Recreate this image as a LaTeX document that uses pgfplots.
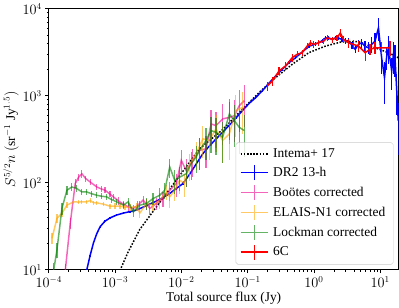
\documentclass[border=0pt]{standalone}
\usepackage{fontspec}
\setmainfont{Liberation Serif}
\usepackage{pgfplots}
\pgfplotsset{compat=1.18}
\definecolor{mplorange}{RGB}{255,165,0}
\definecolor{mplgreen}{RGB}{0,128,0}
\newcommand{\lf}{\fontsize{13.5}{16}\selectfont}
\pgfplotsset{
  errleg/.style={legend image code/.code={
    \draw[#1, line width=1.5pt] (0pt,0pt) -- (28pt,0pt) (14pt,-7.5pt) -- (14pt,7.5pt);}},
  lineleg/.style={legend image code/.code={
    \draw[black, line width=1.5pt, dash pattern=on 1.6pt off 1.6pt] (0pt,0pt) -- (28pt,0pt);}},
}
\begin{document}
\begin{tikzpicture}
\begin{loglogaxis}[
  width=352pt, height=262.5pt, scale only axis,
  xmin=1e-4, xmax=19, ymin=10, ymax=1e4,
  tick align=outside, tick pos=left,
  major tick length=3.5pt, minor tick length=2pt,
  every tick/.style={black, line width=0.6pt},
  axis line style={line width=0.6pt, black},
  tick label style={font=\lf},
  label style={font=\lf},
  xlabel={Total source flux (Jy)},
  ylabel={$S^{5/2}n\ (\mathrm{sr}^{-1}\ \mathrm{Jy}^{1.5})$},
  xlabel style={yshift=3pt},
  ylabel style={yshift=-3pt},
  legend cell align=left,
  legend style={at={(0.985,0.02)}, anchor=south east, draw=black!20,
    rounded corners=2pt, fill=white, fill opacity=0.8, text opacity=1, draw opacity=1,
    font=\lf, row sep=3.5pt, inner xsep=4pt, inner ysep=4pt,
    nodes={inner xsep=4pt}},
]
% Intema+ 17
\addplot[black, line width=1.5pt, dash pattern=on 1.6pt off 1.6pt, lineleg] table[row sep=\\] {
x y\\
1.1e-3 7\\
1.2e-3 10\\
1.58e-3 16.1\\
2.37e-3 29.2\\
3.75e-3 46.9\\
5.3e-3 66.8\\
7.48e-3 95.3\\
1.06e-2 136\\
1.88e-2 246\\
4.2e-2 408\\
8.39e-2 705\\
0.149 1091\\
0.265 1620\\
0.471 2300\\
0.839 3130\\
1.49 3726\\
2.65 4180\\
4.71 4180\\
8.36 3565\\
13.3 3130\\
18.7 2740\\
};
\addlegendentry{\lf Intema+ 17}
% DR2 13-h
\addplot[blue, line width=1.5pt, errleg={blue}, error bars/.cd, y dir=both, y explicit relative, error mark=none, error bar style={line width=1.2pt}] table[row sep=\\, x=x, y=y, y error=e] {
x y e\\
3.5e-4 7 0\\
3.75e-4 10 0.03\\
4.2e-4 14.5 0.03\\
4.73e-4 20.4 0.03\\
5.3e-4 26 0.03\\
5.96e-4 31.3 0.03\\
7.0e-4 36 0.03\\
8.41e-4 39.5 0.03\\
1.05e-3 42.5 0.03\\
1.33e-3 44.8 0.03\\
1.68e-3 46.6 0.03\\
2.11e-3 48.5 0.03\\
2.65e-3 52.5 0.03\\
3.35e-3 57 0.03\\
4.2e-3 61.5 0.03\\
5.3e-3 67.5 0.03\\
6.68e-3 75.3 0.03\\
8.4e-3 86 0.03\\
1.06e-2 98 0.03\\
1.33e-2 125 0.03\\
1.68e-2 165 0.03\\
2.11e-2 216 0.03\\
2.65e-2 265 0.03\\
3.35e-2 320 0.03\\
4.2e-2 381 0.03\\
5.3e-2 460 0.03\\
6.68e-2 555 0.03\\
8.4e-2 680 0.03\\
0.106 820 0.03\\
0.133 957 0.03\\
0.168 1150 0.03\\
0.211 1400 0.03\\
0.265 1693 0.03\\
0.333 2020 0.04\\
0.42 2400 0.04\\
0.53 2740 0.04\\
0.67 3200 0.04\\
0.84 3700 0.04\\
1.06 3950 0.05\\
1.18 4064 0.05\\
1.33 4300 0.05\\
1.5 4634 0.05\\
1.67 4634 0.06\\
1.88 4450 0.06\\
2.1 4634 0.06\\
2.36 4600 0.06\\
2.65 4450 0.07\\
2.98 4300 0.08\\
3.34 4253 0.08\\
3.75 3800 0.1\\
4.19 3420 0.1\\
4.7 3900 0.12\\
5.28 4064 0.12\\
5.9 3700 0.15\\
6.65 3565 0.15\\
7.45 3900 0.2\\
8.36 4253 0.25\\
9.4 6040 0.3\\
10.5 2740 0.35\\
11.6 1620 0.5\\
12.5 2800 0.3\\
13.3 3565 0.35\\
14.9 1930 0.4\\
15.8 3000 0.4\\
16.7 2740 0.4\\
17.7 1200 0.5\\
18.7 518 0.6\\
};
\addlegendentry{\lf DR2 13-h}
% Bootes
\addplot[magenta, opacity=0.6, line width=1.5pt, errleg={magenta,opacity=0.6}, error bars/.cd, y dir=both, y explicit relative, error mark=none, error bar style={line width=1.2pt}] table[row sep=\\, x=x, y=y, y error=e] {
x y e\\
1.7e-4 7 0\\
1.78e-4 10 0.15\\
2.11e-4 34.2 0.15\\
2.51e-4 97.9 0.12\\
2.8e-4 115 0.1\\
3.16e-4 127 0.1\\
3.6e-4 112 0.08\\
4.22e-4 102 0.08\\
5.3e-4 89.6 0.08\\
6.2e-4 85 0.08\\
7.08e-4 82 0.08\\
8.4e-4 74 0.08\\
9.44e-4 68.9 0.08\\
1.12e-3 62 0.1\\
1.33e-3 56.8 0.1\\
1.58e-3 53 0.1\\
1.88e-3 50.7 0.1\\
2.2e-3 55 0.12\\
2.65e-3 63.1 0.12\\
2.98e-3 57 0.15\\
3.35e-3 50.7 0.15\\
4.21e-3 57.8 0.15\\
5.3e-3 65.9 0.2\\
6.68e-3 82 0.25\\
8.4e-3 97.9 0.3\\
9.98e-3 181 0.3\\
1.18e-2 139 0.35\\
1.49e-2 181 0.35\\
1.88e-2 235 0.4\\
2.36e-2 246 0.4\\
2.81e-2 475 0.45\\
3.33e-2 454 0.45\\
4.2e-2 542 0.5\\
5.3e-2 565 0.5\\
6.3e-2 590 0.5\\
7.48e-2 769 0.5\\
8.89e-2 877 0.5\\
};
\addlegendentry{\lf Bo\"otes corrected}
% ELAIS-N1
\addplot[mplorange, opacity=0.6, line width=1.5pt, errleg={mplorange,opacity=0.6}, error bars/.cd, y dir=both, y explicit relative, error mark=none, error bar style={line width=1.2pt}] table[row sep=\\, x=x, y=y, y error=e] {
x y e\\
1.12e-4 23 0.15\\
1.33e-4 39 0.12\\
1.58e-4 44.5 0.1\\
1.88e-4 55.3 0.08\\
2.37e-4 60.4 0.06\\
2.8e-4 60 0.06\\
3.16e-4 60.4 0.06\\
3.75e-4 60.4 0.06\\
4.22e-4 62.5 0.06\\
4.73e-4 59 0.06\\
5.3e-4 58.8 0.06\\
6.68e-4 56.8 0.06\\
8.41e-4 53.8 0.06\\
1.0e-3 53.8 0.08\\
1.19e-3 53.8 0.08\\
1.41e-3 52.5 0.08\\
1.68e-3 52.1 0.1\\
2.11e-3 53 0.1\\
2.37e-3 45 0.12\\
2.98e-3 57.8 0.12\\
3.75e-3 55.3 0.15\\
4.73e-3 63.1 0.2\\
5.94e-3 78.5 0.2\\
6.68e-3 68.9 0.25\\
7.94e-3 82 0.25\\
9.44e-3 107 0.3\\
1.12e-2 97.9 0.3\\
1.33e-2 160 0.35\\
1.67e-2 216 0.35\\
2.11e-2 320 0.4\\
2.65e-2 306 0.4\\
3.33e-2 416 0.45\\
4.2e-2 306 0.45\\
5.3e-2 365 0.5\\
6.65e-2 674 0.5\\
8.39e-2 735 0.5\\
};
\addlegendentry{\lf ELAIS-N1 corrected}
% Lockman
\addplot[mplgreen, opacity=0.6, line width=1.5pt, errleg={mplgreen,opacity=0.6}, error bars/.cd, y dir=both, y explicit relative, error mark=none, error bar style={line width=1.2pt}] table[row sep=\\, x=x, y=y, y error=e] {
x y e\\
1.15e-4 7 0\\
1.19e-4 10 0.2\\
1.33e-4 16.9 0.2\\
1.58e-4 50.7 0.15\\
1.88e-4 82 0.12\\
2.23e-4 89.6 0.1\\
2.65e-4 85.9 0.1\\
3.16e-4 78.5 0.08\\
3.75e-4 78.5 0.08\\
4.4e-4 75 0.08\\
5.3e-4 71.9 0.08\\
6.3e-4 70 0.08\\
7.48e-4 68.9 0.08\\
8.9e-4 64 0.08\\
1.06e-3 60.4 0.08\\
1.33e-3 55.3 0.1\\
1.58e-3 60.4 0.1\\
1.88e-3 46.4 0.12\\
2.37e-3 55.3 0.12\\
2.98e-3 57.8 0.15\\
3.75e-3 65.9 0.15\\
4.73e-3 71.9 0.2\\
5.62e-3 82 0.2\\
6.68e-3 152 0.25\\
7.94e-3 107 0.3\\
9.44e-3 116 0.3\\
1.18e-2 127 0.3\\
1.41e-2 166 0.35\\
1.67e-2 197 0.35\\
1.88e-2 235 0.4\\
2.36e-2 306 0.4\\
2.81e-2 398 0.45\\
3.33e-2 381 0.45\\
4.2e-2 334 0.5\\
5.3e-2 618 0.5\\
6.3e-2 518 0.5\\
7.48e-2 434 0.5\\
8.89e-2 398 0.5\\
};
\addlegendentry{\lf Lockman corrected}
% 6C
\addplot[red, line width=1.5pt, errleg={red}, error bars/.cd, y dir=both, y explicit relative, error mark=none, error bar style={line width=1.2pt}] table[row sep=\\, x=x, y=y, y error=e] {
x y e\\
0.199 1300 0.12\\
0.236 1483 0.12\\
0.298 1930 0.1\\
0.374 2203 0.1\\
0.471 2740 0.1\\
0.56 3000 0.08\\
0.665 3130 0.08\\
0.791 3726 0.08\\
0.887 4064 0.08\\
0.997 3897 0.08\\
1.18 4064 0.08\\
1.41 4253 0.08\\
1.58 4634 0.08\\
1.88 4446 0.08\\
2.23 4634 0.08\\
2.5 5285 0.1\\
2.8 4446 0.1\\
3.34 4064 0.12\\
3.96 3897 0.12\\
4.71 3726 0.15\\
5.92 3130 0.2\\
7.03 3420 0.15\\
8.36 3565 0.15\\
10.5 3565 0.15\\
14.0 3565 0.2\\
};
\addlegendentry{\lf 6C}
\end{loglogaxis}
\end{tikzpicture}
\end{document}
